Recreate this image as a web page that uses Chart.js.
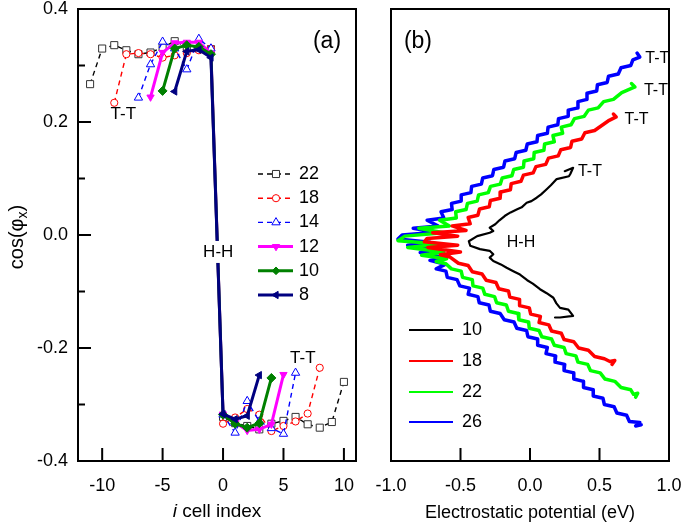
<!DOCTYPE html>
<html><head><meta charset="utf-8">
<script src="https://cdn.jsdelivr.net/npm/chart.js@4.4.1/dist/chart.umd.min.js"></script>
<style>
html,body{margin:0;padding:0;background:#fff;}
#wrap{position:relative;width:685px;height:525px;overflow:hidden;}
canvas{position:absolute;left:0;top:0;}
</style></head><body>
<div id="wrap"><canvas id="ca" width="685" height="525"></canvas><canvas id="cb" width="685" height="525"></canvas></div>
<script>
// ---------- Panel (a) data ----------
const cells22 = [-11,-10,-9,-8,-7,-6,-5,-4,-3,-2,-1,0,1,2,3,4,5,6,7,8,9,10];
const cos22 = [0.267,0.330,0.336,0.327,0.320,0.323,0.332,0.343,0.333,0.330,0.329,-0.322,-0.333,-0.338,-0.344,-0.334,-0.329,-0.322,-0.335,-0.341,-0.331,-0.260];
const cells18 = [-9,-8,-7,-6,-5,-4,-3,-2,-1,0,1,2,3,4,5,6,7,8];
const cos18 = [0.234,0.320,0.322,0.320,0.314,0.318,0.322,0.327,0.330,-0.334,-0.323,-0.308,-0.318,-0.347,-0.338,-0.330,-0.316,-0.235];
const cells14 = [-7,-6,-5,-4,-3,-2,-1,0,1,2,3,4,5,6];
const cos14 = [0.243,0.302,0.342,0.330,0.293,0.347,0.330,-0.318,-0.350,-0.294,-0.330,-0.342,-0.352,-0.244];
const cells12 = [-6,-5,-4,-3,-2,-1,0,1,2,3,4,5];
const cos12 = [0.244,0.323,0.340,0.341,0.341,0.322,-0.317,-0.332,-0.346,-0.344,-0.335,-0.247];
const cells10 = [-5,-4,-3,-2,-1,0,1,2,3,4];
const cos10 = [0.255,0.330,0.336,0.333,0.320,-0.318,-0.334,-0.341,-0.333,-0.253];
const cells8 = [-4,-3,-2,-1,0,1,2,3];
const cos8 = [0.254,0.325,0.328,0.314,-0.317,-0.326,-0.320,-0.248];
const seriesA = ['22','18','14','12','10','8'];

// ---------- Panel (b) data: [potential (eV), cos] ----------
const curve10 = [[0.25,0.113],[0.31,0.119],[0.29,0.108],[0.28,0.104],[0.192,0.099],[0.15,0.088],[0.12,0.081],[0.08,0.072],[0.048,0.066],[0.01,0.060],[-0.024,0.057],[-0.06,0.049],[-0.096,0.045],[-0.14,0.040],[-0.18,0.034],[-0.22,0.026],[-0.25,0.019],[-0.29,0.013],[-0.264,0.007],[-0.29,0.004],[-0.38,-0.002],[-0.44,-0.011],[-0.43,-0.019],[-0.36,-0.025],[-0.29,-0.028],[-0.264,-0.034],[-0.29,-0.040],[-0.264,-0.046],[-0.21,-0.052],[-0.168,-0.058],[-0.12,-0.064],[-0.072,-0.070],[-0.02,-0.080],[0.02,-0.086],[0.072,-0.096],[0.12,-0.103],[0.168,-0.111],[0.19,-0.121],[0.216,-0.129],[0.276,-0.132],[0.31,-0.143],[0.216,-0.146],[0.18,-0.146]];
const curve18 = [[0.60,0.214],[0.62,0.209],[0.57,0.203],[0.465,0.185],[0.395,0.181],[0.372,0.170],[0.302,0.166],[0.292,0.155],[0.222,0.151],[0.203,0.140],[0.133,0.136],[0.113,0.125],[0.043,0.121],[0.023,0.110],[-0.047,0.106],[-0.065,0.095],[-0.135,0.091],[-0.141,0.080],[-0.211,0.076],[-0.215,0.065],[-0.285,0.061],[-0.293,0.050],[-0.363,0.046],[-0.375,0.035],[-0.445,0.031],[-0.43,0.020],[-0.56,0.016],[-0.46,0.008],[-0.70,0.004],[-0.52,-0.002],[-0.74,-0.006],[-0.76,-0.012],[-0.52,-0.018],[-0.735,-0.022],[-0.50,-0.030],[-0.645,-0.035],[-0.575,-0.039],[-0.515,-0.050],[-0.445,-0.054],[-0.415,-0.065],[-0.345,-0.069],[-0.315,-0.080],[-0.245,-0.084],[-0.225,-0.095],[-0.155,-0.099],[-0.145,-0.110],[-0.075,-0.114],[-0.075,-0.125],[-0.005,-0.129],[0.005,-0.140],[0.075,-0.144],[0.065,-0.155],[0.135,-0.159],[0.155,-0.170],[0.225,-0.174],[0.245,-0.185],[0.315,-0.189],[0.35,-0.200],[0.42,-0.204],[0.465,-0.215],[0.535,-0.219],[0.575,-0.224],[0.61,-0.222],[0.59,-0.229]];
const curve22 = [[0.73,0.268],[0.755,0.262],[0.66,0.252],[0.60,0.240],[0.53,0.236],[0.49,0.225],[0.42,0.221],[0.39,0.210],[0.32,0.206],[0.295,0.195],[0.225,0.191],[0.235,0.180],[0.165,0.176],[0.175,0.165],[0.105,0.161],[0.10,0.150],[0.03,0.146],[0.027,0.135],[-0.043,0.131],[-0.047,0.120],[-0.117,0.116],[-0.13,0.105],[-0.20,0.101],[-0.214,0.090],[-0.284,0.086],[-0.30,0.075],[-0.37,0.071],[-0.38,0.060],[-0.45,0.056],[-0.46,0.045],[-0.535,0.041],[-0.53,0.030],[-0.65,0.026],[-0.58,0.016],[-0.80,0.012],[-0.62,0.004],[-0.90,-0.002],[-0.95,-0.010],[-0.64,-0.016],[-0.88,-0.022],[-0.62,-0.030],[-0.78,-0.036],[-0.60,-0.042],[-0.675,-0.047],[-0.605,-0.051],[-0.565,-0.060],[-0.495,-0.064],[-0.485,-0.075],[-0.415,-0.079],[-0.41,-0.090],[-0.34,-0.094],[-0.325,-0.105],[-0.255,-0.109],[-0.24,-0.120],[-0.17,-0.124],[-0.155,-0.135],[-0.085,-0.139],[-0.08,-0.150],[-0.01,-0.154],[-0.005,-0.165],[0.065,-0.169],[0.085,-0.180],[0.155,-0.184],[0.175,-0.195],[0.245,-0.199],[0.26,-0.210],[0.33,-0.214],[0.345,-0.225],[0.415,-0.229],[0.435,-0.240],[0.505,-0.244],[0.54,-0.255],[0.61,-0.259],[0.655,-0.270],[0.725,-0.274],[0.745,-0.282],[0.775,-0.280],[0.76,-0.287]];
const curve26 = [[0.77,0.322],[0.79,0.315],[0.74,0.310],[0.725,0.300],[0.655,0.296],[0.635,0.285],[0.565,0.281],[0.555,0.270],[0.485,0.266],[0.48,0.255],[0.41,0.251],[0.41,0.240],[0.345,0.236],[0.345,0.225],[0.275,0.221],[0.275,0.210],[0.205,0.206],[0.20,0.195],[0.13,0.191],[0.125,0.180],[0.055,0.176],[0.05,0.165],[-0.02,0.161],[-0.03,0.150],[-0.10,0.146],[-0.11,0.135],[-0.18,0.131],[-0.19,0.120],[-0.26,0.116],[-0.27,0.105],[-0.34,0.101],[-0.35,0.090],[-0.42,0.086],[-0.425,0.075],[-0.495,0.071],[-0.495,0.060],[-0.565,0.056],[-0.56,0.045],[-0.64,0.041],[-0.62,0.030],[-0.74,0.026],[-0.66,0.016],[-0.84,0.012],[-0.68,0.005],[-0.92,0.000],[-0.95,-0.007],[-0.72,-0.013],[-0.88,-0.018],[-0.66,-0.026],[-0.79,-0.031],[-0.62,-0.040],[-0.72,-0.045],[-0.61,-0.052],[-0.675,-0.060],[-0.605,-0.064],[-0.595,-0.075],[-0.525,-0.079],[-0.505,-0.090],[-0.435,-0.094],[-0.445,-0.105],[-0.375,-0.109],[-0.365,-0.120],[-0.295,-0.124],[-0.285,-0.135],[-0.215,-0.139],[-0.185,-0.150],[-0.115,-0.154],[-0.095,-0.165],[-0.025,-0.169],[-0.015,-0.180],[0.055,-0.184],[0.055,-0.195],[0.125,-0.199],[0.115,-0.210],[0.185,-0.214],[0.18,-0.225],[0.25,-0.229],[0.245,-0.240],[0.315,-0.244],[0.315,-0.255],[0.385,-0.259],[0.385,-0.270],[0.455,-0.274],[0.455,-0.285],[0.525,-0.289],[0.535,-0.300],[0.605,-0.304],[0.625,-0.315],[0.695,-0.319],[0.715,-0.330],[0.79,-0.332],[0.76,-0.338],[0.80,-0.336]];
const seriesB = ['10','18','22','26'];

// ---------- ticks ----------
const xTicksA = [-10,-5,0,5,10];
const xTicksB = [-1,-0.5,0,0.5,1];
const yTicks = [-0.4,-0.2,0,0.2,0.4];
const yMinorTicks = [-0.3,-0.1,0.1,0.3];

const FF = "'Liberation Sans', Arial, Helvetica, sans-serif";
Chart.defaults.font.family = FF;
Chart.defaults.font.size = 18;
Chart.defaults.color = '#000';

function pts(xs, ys){ return xs.map((x,i)=>({x:x, y:ys[i]})); }
function pairs(a){ return a.map(p=>({x:p[0], y:p[1]})); }

function marker(ctx, style, x, y, r, rot, fill, stroke, lw){
  ctx.save(); ctx.translate(x,y); ctx.rotate(rot*Math.PI/180); ctx.beginPath();
  if(style==='rect'){ const s=r*Math.SQRT1_2; ctx.rect(-s,-s,2*s,2*s); }
  else if(style==='circle'){ ctx.arc(0,0,r,0,Math.PI*2); }
  else if(style==='triangle'){ for(let k=0;k<3;k++){ const a=k*2*Math.PI/3; const px=Math.sin(a)*r, py=-Math.cos(a)*r; if(k===0) ctx.moveTo(px,py); else ctx.lineTo(px,py);} ctx.closePath(); }
  else if(style==='rectRot'){ const s=r*0.85; ctx.moveTo(0,-s); ctx.lineTo(s,0); ctx.lineTo(0,s); ctx.lineTo(-s,0); ctx.closePath(); }
  ctx.fillStyle=fill; ctx.fill(); ctx.lineWidth=lw; ctx.strokeStyle=stroke; ctx.stroke();
  ctx.restore();
}

const styleA = [
  {color:'#000000', dash:[5,4], width:1.4, ps:'rect', pr:5, rot:0, fill:'#ffffff', pstroke:'#333333'},
  {color:'#ff0000', dash:[5,4], width:1.4, ps:'circle', pr:3.6, rot:0, fill:'#ffffff', pstroke:'#ff0000'},
  {color:'#0000ff', dash:[5,4], width:1.4, ps:'triangle', pr:4.8, rot:0, fill:'#ffffff', pstroke:'#0000ff'},
  {color:'#ff00ff', dash:[], width:3, ps:'triangle', pr:4.2, rot:180, fill:'#ff00ff', pstroke:'#ff00ff'},
  {color:'#008000', dash:[], width:3, ps:'rectRot', pr:4.5, rot:0, fill:'#008000', pstroke:'#008000'},
  {color:'#000080', dash:[], width:3, ps:'triangle', pr:4.2, rot:270, fill:'#000080', pstroke:'#000080'}
];
const dataA = [pts(cells22,cos22), pts(cells18,cos18), pts(cells14,cos14), pts(cells12,cos12), pts(cells10,cos10), pts(cells8,cos8)];

const dsA = dataA.map((d,i)=>({
  label: seriesA[i], data: d, showLine: true,
  borderColor: styleA[i].color, borderWidth: styleA[i].width, borderDash: styleA[i].dash,
  pointStyle: styleA[i].ps, pointRadius: styleA[i].pr, pointRotation: styleA[i].rot,
  pointBackgroundColor: styleA[i].fill, pointBorderColor: styleA[i].pstroke, pointBorderWidth: 1,
  order: 5-i, tension: 0
}));

function drawBorderAndTicks(chart, xVals, withY){
  const ctx=chart.ctx, ca=chart.chartArea, sx=chart.scales.x, sy=chart.scales.y;
  ctx.save(); ctx.strokeStyle='#000'; ctx.lineWidth=2; ctx.setLineDash([]);
  ctx.beginPath();
  xVals.forEach(v=>{ const p=sx.getPixelForValue(v); ctx.moveTo(p, ca.bottom); ctx.lineTo(p, ca.bottom-13); });
  if(withY){
    yTicks.forEach(v=>{ const p=sy.getPixelForValue(v); ctx.moveTo(ca.left,p); ctx.lineTo(ca.left+13,p); });
    yMinorTicks.forEach(v=>{ const p=sy.getPixelForValue(v); ctx.moveTo(ca.left,p); ctx.lineTo(ca.left+7,p); });
  }
  ctx.stroke();
  ctx.strokeRect(ca.left, ca.top, ca.right-ca.left, ca.bottom-ca.top);
  ctx.restore();
}

const plugA = {
  id:'plugA',
  afterDraw(chart){
    const ctx=chart.ctx, sx=chart.scales.x, sy=chart.scales.y;
    ctx.save();
    ctx.fillStyle='#000'; ctx.textBaseline='middle'; ctx.textAlign='center';
    const hx=sx.getPixelForValue(-0.4), hy=sy.getPixelForValue(-0.03);
    ctx.fillStyle='#fff'; ctx.fillRect(hx-17, hy-11, 34, 22);
    ctx.fillStyle='#000'; ctx.font='17px '+FF; ctx.fillText('H-H', hx, hy);
    ctx.fillText('T-T', sx.getPixelForValue(-8.25), sy.getPixelForValue(0.214));
    ctx.fillText('T-T', sx.getPixelForValue(6.6), sy.getPixelForValue(-0.219));
    ctx.font='23px '+FF;
    ctx.fillText('(a)', sx.getPixelForValue(8.6), sy.getPixelForValue(0.342));
    // legend
    ctx.font='18px '+FF; ctx.textAlign='left';
    seriesA.forEach((lab,i)=>{
      const st=styleA[i]; const y=174+24.2*i;
      ctx.save(); ctx.strokeStyle=st.color; ctx.lineWidth=st.width; ctx.setLineDash(st.dash);
      ctx.beginPath(); ctx.moveTo(258,y); ctx.lineTo(st.dash.length?291:293,y); ctx.stroke(); ctx.restore();
      marker(ctx, st.ps, 276, y, st.pr, st.rot, st.fill, st.pstroke, 1);
      ctx.fillStyle='#000'; ctx.fillText(lab, 299, y);
    });
    // axis titles
    ctx.textAlign='left';
    ctx.font='italic 19px '+FF; const wi=ctx.measureText('i').width;
    ctx.font='19px '+FF; const wr=ctx.measureText(' cell index').width;
    let x0=217-(wi+wr)/2;
    ctx.font='italic 19px '+FF; ctx.fillText('i', x0, 512);
    ctx.font='19px '+FF; ctx.fillText(' cell index', x0+wi, 512);
    ctx.save(); ctx.translate(17,237); ctx.rotate(-Math.PI/2);
    ctx.font='20px '+FF; const w1=ctx.measureText('cos(\u03c6').width;
    ctx.font='14px '+FF; const w2=ctx.measureText('x').width;
    ctx.font='20px '+FF; const w3=ctx.measureText(')').width;
    let t0=-(w1+w2+w3)/2;
    ctx.fillText('cos(\u03c6', t0, 0);
    ctx.font='14px '+FF; ctx.fillText('x', t0+w1, 6);
    ctx.font='20px '+FF; ctx.fillText(')', t0+w1+w2, 0);
    ctx.restore();
    ctx.restore();
    drawBorderAndTicks(chart, xTicksA, true);
  }
};

new Chart(document.getElementById('ca'), {
  type:'scatter',
  data:{datasets: dsA},
  options:{
    responsive:false, animation:false, devicePixelRatio:1,
    layout:{padding:{left:22, right:329, top:9, bottom:20}},
    plugins:{legend:{display:false}, tooltip:{enabled:false}},
    scales:{
      x:{type:'linear', min:-12, max:11,
         grid:{display:false, drawTicks:false}, border:{display:false},
         afterBuildTicks:s=>{ s.ticks = xTicksA.map(v=>({value:v})); },
         afterFit:s=>{ s.height=44; s.paddingLeft=0; s.paddingRight=0; },
         ticks:{padding:14, font:{size:18}, callback:v=>String(v)}},
      y:{type:'linear', min:-0.4, max:0.4,
         grid:{display:false, drawTicks:false}, border:{display:false},
         afterBuildTicks:s=>{ s.ticks = yTicks.map(v=>({value:v})); },
         afterFit:s=>{ s.width=56; s.paddingTop=0; s.paddingBottom=0; },
         ticks:{padding:10, font:{size:18}, callback:v=>Number(v).toFixed(1)}}
    }
  },
  plugins:[plugA]
});

// ---------- Panel (b) ----------
const colorsB = ['#000000','#ff0000','#00ff00','#0000ff'];
const widthsB = [2.2,3.5,3.5,3.5];
const dataB = [curve10, curve18, curve22, curve26];
const dsB = dataB.map((d,i)=>({
  label: seriesB[i], data: pairs(d), showLine:true,
  borderColor: colorsB[i], borderWidth: widthsB[i], pointRadius:0,
  borderJoinStyle:'round', borderCapStyle:'round', tension:0
}));

const plugB = {
  id:'plugB',
  afterDraw(chart){
    const ctx=chart.ctx, sx=chart.scales.x, sy=chart.scales.y;
    ctx.save(); ctx.fillStyle='#000'; ctx.textBaseline='middle';
    ctx.textAlign='center'; ctx.font='23px '+FF;
    ctx.fillText('(b)', sx.getPixelForValue(-0.806), sy.getPixelForValue(0.342));
    ctx.font='16px '+FF;
    ctx.fillText('H-H', sx.getPixelForValue(-0.065), sy.getPixelForValue(-0.014));
    ctx.textAlign='left';
    ctx.fillText('T-T', sx.getPixelForValue(0.83), sy.getPixelForValue(0.313));
    ctx.fillText('T-T', sx.getPixelForValue(0.82), sy.getPixelForValue(0.255));
    ctx.fillText('T-T', sx.getPixelForValue(0.68), sy.getPixelForValue(0.204));
    ctx.fillText('T-T', sx.getPixelForValue(0.345), sy.getPixelForValue(0.113));
    // legend
    const ly=[330,361,392,422];
    ctx.font='18px '+FF;
    seriesB.forEach((lab,i)=>{
      ctx.strokeStyle=colorsB[i]; ctx.lineWidth=2; ctx.beginPath(); ctx.moveTo(409,ly[i]); ctx.lineTo(453,ly[i]); ctx.stroke();
      ctx.fillText(lab, 462, ly[i]);
    });
    ctx.font='18px '+FF; ctx.textAlign='center';
    ctx.fillText('Electrostatic potential (eV)', 530, 513);
    ctx.restore();
    drawBorderAndTicks(chart, xTicksB.slice(1,4), false);
  }
};

new Chart(document.getElementById('cb'), {
  type:'scatter',
  data:{datasets: dsB},
  options:{
    responsive:false, animation:false, devicePixelRatio:1,
    layout:{padding:{left:391, right:16, top:9, bottom:20}},
    plugins:{legend:{display:false}, tooltip:{enabled:false}},
    scales:{
      x:{type:'linear', min:-1, max:1,
         grid:{display:false, drawTicks:false}, border:{display:false},
         afterBuildTicks:s=>{ s.ticks = xTicksB.map(v=>({value:v})); },
         afterFit:s=>{ s.height=44; s.paddingLeft=0; s.paddingRight=0; },
         ticks:{padding:14, font:{size:18}, callback:v=>Number(v).toFixed(1)}},
      y:{type:'linear', min:-0.4, max:0.4, display:false,
         afterFit:s=>{ s.paddingTop=0; s.paddingBottom=0; }}
    }
  },
  plugins:[plugB]
});
</script>
</body></html>
